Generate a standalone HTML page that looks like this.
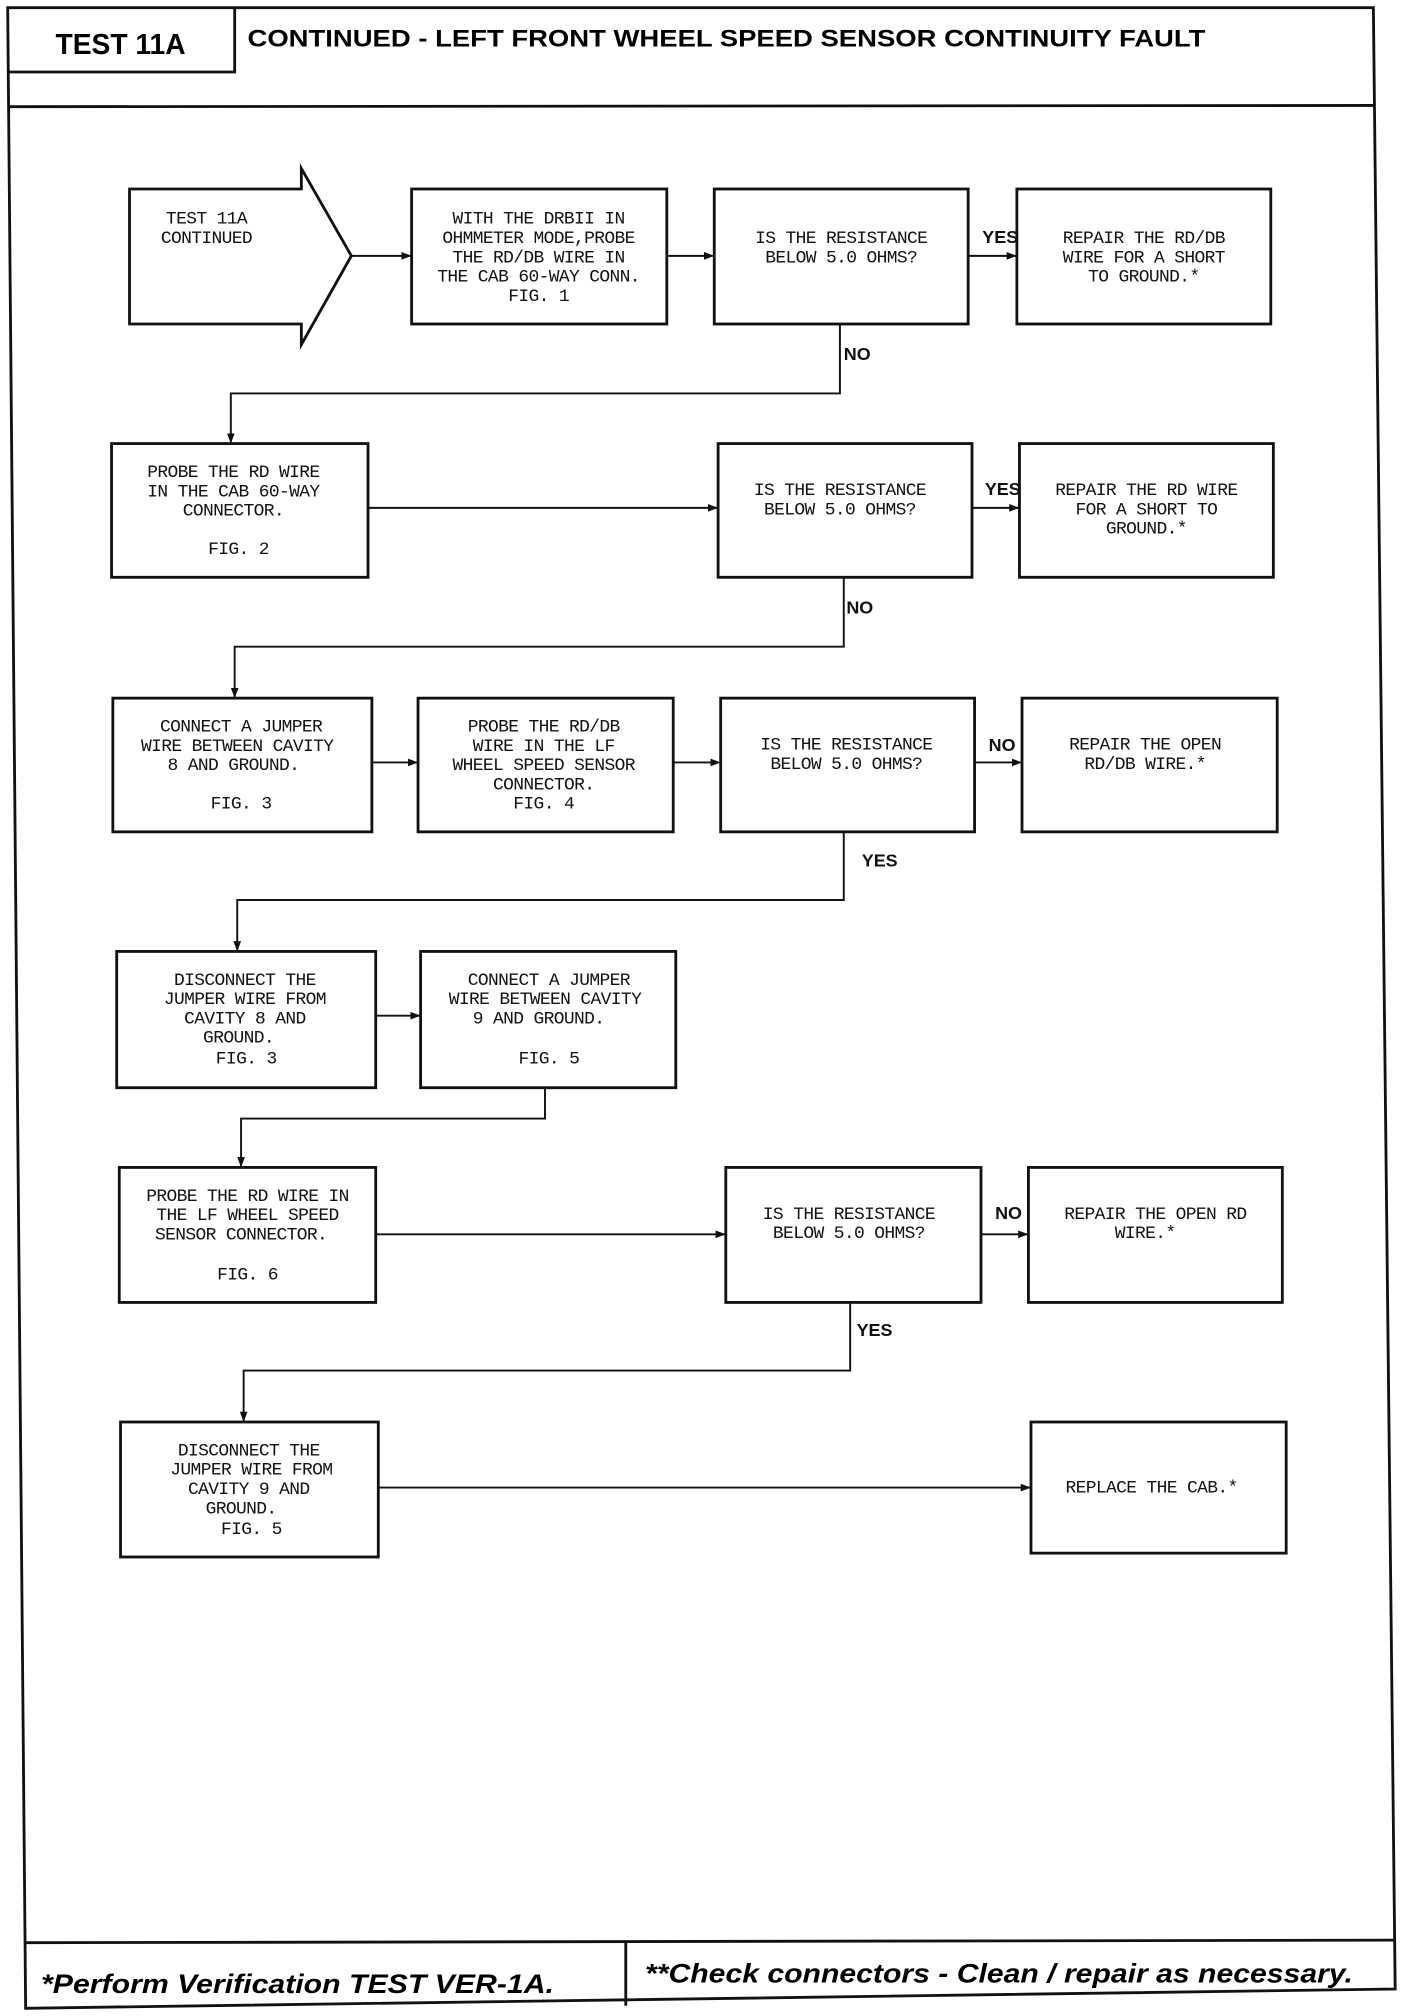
<!DOCTYPE html>
<html><head><meta charset="utf-8"><style>
html,body{margin:0;padding:0;background:#fff;}
svg{display:block}
.t{font-family:"Liberation Mono",monospace;font-size:14px;fill:#111;text-anchor:middle;letter-spacing:-0.5px}
.l{font-family:"Liberation Sans",sans-serif;font-size:14px;fill:#111;font-weight:bold}
</style></head><body>
<svg width="1408" height="2016" viewBox="0 0 1098 1568" preserveAspectRatio="none" xmlns="http://www.w3.org/2000/svg">
<defs><marker id="a" markerWidth="8" markerHeight="6" refX="8" refY="3" orient="auto" markerUnits="userSpaceOnUse"><path d="M0,0 L8,3 L0,6z" fill="#111"/></marker></defs>
<g fill="none" stroke="#111" stroke-width="2.2">
<polygon points="6,6 1071,6 1088,1547 20,1562"/>
<polyline points="6,56 183,56 183,6"/>
<line x1="6" y1="83" x2="1072" y2="82"/>
<line x1="19" y1="1511" x2="1088" y2="1509"/>
<line x1="488" y1="1510" x2="488" y2="1560"/>
<path d="M101,147 H235 V131 L274,199 L235,268 V252 H101 Z"/>
<rect x="321" y="147" width="199" height="105"/>
<rect x="557" y="147" width="198" height="105"/>
<rect x="793" y="147" width="198" height="105"/>
<rect x="87" y="345" width="200" height="104"/>
<rect x="560" y="345" width="198" height="104"/>
<rect x="795" y="345" width="198" height="104"/>
<rect x="88" y="543" width="202" height="104"/>
<rect x="326" y="543" width="199" height="104"/>
<rect x="562" y="543" width="198" height="104"/>
<rect x="797" y="543" width="199" height="104"/>
<rect x="91" y="740" width="202" height="106"/>
<rect x="328" y="740" width="199" height="106"/>
<rect x="93" y="908" width="200" height="105"/>
<rect x="566" y="908" width="199" height="105"/>
<rect x="802" y="908" width="198" height="105"/>
<rect x="94" y="1106" width="201" height="105"/>
<rect x="804" y="1106" width="199" height="102"/>
</g>
<g fill="none" stroke="#111" stroke-width="1.5" marker-end="url(#a)">
<line x1="274" y1="199" x2="321" y2="199"/>
<line x1="520" y1="199" x2="557" y2="199"/>
<line x1="755" y1="199" x2="793" y2="199"/>
<polyline points="655,252 655,306 180,306 180,345"/>
<line x1="287" y1="395" x2="560" y2="395"/>
<line x1="758" y1="395" x2="795" y2="395"/>
<polyline points="658,449 658,503 183,503 183,543"/>
<line x1="290" y1="593" x2="326" y2="593"/>
<line x1="525" y1="593" x2="562" y2="593"/>
<line x1="760" y1="593" x2="797" y2="593"/>
<polyline points="658,647 658,700 185,700 185,740"/>
<line x1="293" y1="790" x2="328" y2="790"/>
<polyline points="425,846 425,870 188,870 188,908"/>
<line x1="293" y1="960" x2="566" y2="960"/>
<line x1="765" y1="960" x2="802" y2="960"/>
<polyline points="663,1013 663,1066 190,1066 190,1106"/>
<line x1="295" y1="1157" x2="804" y2="1157"/>
</g>
<text x="94" y="42" font-family="Liberation Sans" font-weight="bold" font-size="22" text-anchor="middle">TEST 11A</text>
<text x="193" y="36" font-family="Liberation Sans" font-weight="bold" font-size="19" textLength="747" lengthAdjust="spacingAndGlyphs">CONTINUED - LEFT FRONT WHEEL SPEED SENSOR CONTINUITY FAULT</text>
<text x="32" y="1550" font-family="Liberation Sans" font-weight="bold" font-style="italic" font-size="21" textLength="400" lengthAdjust="spacingAndGlyphs">*Perform Verification TEST VER-1A.</text>
<text x="503" y="1542" font-family="Liberation Sans" font-weight="bold" font-style="italic" font-size="21" textLength="552" lengthAdjust="spacingAndGlyphs">**Check connectors - Clean / repair as necessary.</text>
<g class="l">
<text x="766" y="189">YES</text><text x="658" y="280">NO</text>
<text x="768" y="385">YES</text><text x="660" y="477">NO</text>
<text x="771" y="584">NO</text><text x="672" y="674">YES</text>
<text x="776" y="948">NO</text><text x="668" y="1039">YES</text>
</g>
<g class="t">
<text x="161" y="174">TEST 11A</text><text x="161" y="189">CONTINUED</text>
<text x="420" y="174">WITH THE DRBII IN</text><text x="420" y="189">OHMMETER MODE,PROBE</text><text x="420" y="204">THE RD/DB WIRE IN</text><text x="420" y="219">THE CAB 60-WAY CONN.</text><text x="420" y="234">FIG. 1</text>
<text x="656" y="189">IS THE RESISTANCE</text><text x="656" y="204">BELOW 5.0 OHMS?</text>
<text x="892" y="189">REPAIR THE RD/DB</text><text x="892" y="204">WIRE FOR A SHORT</text><text x="892" y="219">TO GROUND.*</text>
<text x="182" y="371">PROBE THE RD WIRE</text><text x="182" y="386">IN THE CAB 60-WAY</text><text x="182" y="401">CONNECTOR.</text><text x="186" y="431">FIG. 2</text>
<text x="655" y="385">IS THE RESISTANCE</text><text x="655" y="400">BELOW 5.0 OHMS?</text>
<text x="894" y="385">REPAIR THE RD WIRE</text><text x="894" y="400">FOR A SHORT TO</text><text x="894" y="415">GROUND.*</text>
<text x="188" y="569">CONNECT A JUMPER</text><text x="185" y="584">WIRE BETWEEN CAVITY</text><text x="182" y="599">8 AND GROUND.</text><text x="188" y="629">FIG. 3</text>
<text x="424" y="569">PROBE THE RD/DB</text><text x="424" y="584">WIRE IN THE LF</text><text x="424" y="599">WHEEL SPEED SENSOR</text><text x="424" y="614">CONNECTOR.</text><text x="424" y="629">FIG. 4</text>
<text x="660" y="583">IS THE RESISTANCE</text><text x="660" y="598">BELOW 5.0 OHMS?</text>
<text x="893" y="583">REPAIR THE OPEN</text><text x="893" y="598">RD/DB WIRE.*</text>
<text x="191" y="766">DISCONNECT THE</text><text x="191" y="781">JUMPER WIRE FROM</text><text x="191" y="796">CAVITY 8 AND</text><text x="186" y="811">GROUND.</text><text x="192" y="827">FIG. 3</text>
<text x="428" y="766">CONNECT A JUMPER</text><text x="425" y="781">WIRE BETWEEN CAVITY</text><text x="420" y="796">9 AND GROUND.</text><text x="428" y="827">FIG. 5</text>
<text x="193" y="934">PROBE THE RD WIRE IN</text><text x="193" y="949">THE LF WHEEL SPEED</text><text x="188" y="964">SENSOR CONNECTOR.</text><text x="193" y="995">FIG. 6</text>
<text x="662" y="948">IS THE RESISTANCE</text><text x="662" y="963">BELOW 5.0 OHMS?</text>
<text x="901" y="948">REPAIR THE OPEN RD</text><text x="893" y="963">WIRE.*</text>
<text x="194" y="1132">DISCONNECT THE</text><text x="196" y="1147">JUMPER WIRE FROM</text><text x="194" y="1162">CAVITY 9 AND</text><text x="188" y="1177">GROUND.</text><text x="196" y="1193">FIG. 5</text>
<text x="898" y="1161">REPLACE THE CAB.*</text>
</g>
</svg>
</body></html>
